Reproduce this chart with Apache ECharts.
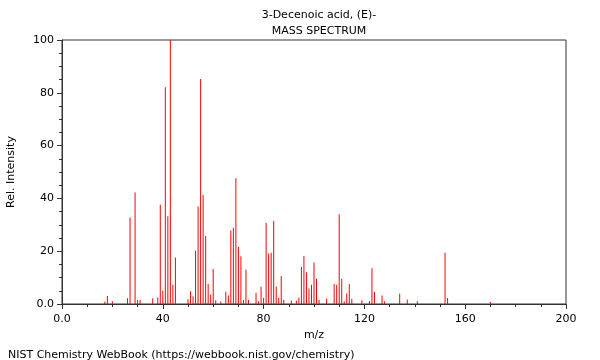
<!DOCTYPE html>
<html>
<head>
<meta charset="utf-8">
<script src="https://cdn.jsdelivr.net/npm/echarts@6/dist/echarts.min.js"></script>
<style>
html,body{margin:0;padding:0;background:#fff;}
#chart{width:600px;height:360px;}
</style>
</head>
<body>
<div id="chart"></div>
<script>
var titleLines = ['3-Decenoic acid, (E)-', 'MASS SPECTRUM'];
var xName = 'm/z';
var yName = 'Rel. Intensity';
var footer = 'NIST Chemistry WebBook (https://webbook.nist.gov/chemistry)';

var mzValues = [17,18,20,26,27,29,30,31,36,38,39,40,41,42,43,44,45,50,51,52,53,54,55,56,57,58,59,60,61,63,65,66,67,68,69,70,71,72,73,74,77,78,79,80,81,82,83,84,85,86,87,88,91,93,94,95,96,97,98,99,100,101,102,105,108,109,110,111,112,113,114,115,119,122,123,124,127,128,134,137,141,152,153,170];
var intensities = [0.9,3.0,1.0,2.2,32.8,42.2,1.5,1.5,2.2,2.5,37.6,5.0,82.1,33.2,100,7.3,17.6,1.8,4.8,2.9,20.2,36.9,85.2,41.3,25.8,7.6,3.6,13.3,1.4,0.9,4.6,3.2,27.8,28.9,47.6,21.6,18.1,1.5,13.1,1.5,4.3,0.9,6.5,2.4,30.8,19.1,19.4,31.4,6.6,2.4,10.6,1.5,1.3,1.2,2.5,14.0,18.2,12.0,5.9,7.3,15.7,9.6,1.5,2.1,7.6,7.3,34.0,9.6,0.9,4.0,7.6,1.9,1.4,1.1,13.5,4.6,3.2,1.0,3.9,1.7,1.0,19.4,2.3,0.8];

var data = mzValues.map(function(m, i){ return [m, intensities[i]]; });

var font = 'DejaVu Sans';
var chart = echarts.init(document.getElementById('chart'), null, {renderer: 'canvas'});
chart.setOption({
  animation: false,
  backgroundColor: '#fff',
  textStyle: {fontFamily: font},
  title: [
    {text: titleLines[0], left: 314, top: 5, textAlign: 'center',
     textStyle: {fontFamily: font, fontSize: 11, fontWeight: 'normal', color: '#000'}},
    {text: titleLines[1], left: 314, top: 21, textAlign: 'center',
     textStyle: {fontFamily: font, fontSize: 11, fontWeight: 'normal', color: '#000'}},
    {text: footer, left: 3, top: 345,
     textStyle: {fontFamily: font, fontSize: 11, fontWeight: 'normal', color: '#000'}}
  ],
  grid: {left: 62, right: 34, top: 40, bottom: 56, show: true, borderColor: '#333', borderWidth: 1,
         backgroundColor: 'transparent', containLabel: false, outerBoundsMode: 'none'},
  xAxis: {
    type: 'value', min: 0, max: 200, interval: 40,
    name: xName, nameLocation: 'middle', nameGap: 25,
    nameTextStyle: {fontFamily: font, fontSize: 11, color: '#000'},
    axisLine: {show: true, lineStyle: {color: '#333'}},
    axisTick: {show: true, length: 5, lineStyle: {color: '#333'}},
    minorTick: {show: true, splitNumber: 4, length: 3, lineStyle: {color: '#333'}},
    splitLine: {show: false},
    axisLabel: {fontFamily: font, fontSize: 11, color: '#000', margin: 10,
      formatter: function(v){ return v === 0 ? '0.0' : String(v); }}
  },
  yAxis: {
    type: 'value', min: 0, max: 100, interval: 20,
    name: yName, nameLocation: 'middle', nameGap: 45, nameRotate: 90,
    nameTextStyle: {fontFamily: font, fontSize: 11, color: '#000'},
    axisLine: {show: true, lineStyle: {color: '#333'}},
    axisTick: {show: true, length: 5, lineStyle: {color: '#333'}},
    minorTick: {show: true, splitNumber: 4, length: 3, lineStyle: {color: '#333'}},
    splitLine: {show: false},
    axisLabel: {fontFamily: font, fontSize: 11, color: '#000', margin: 8,
      formatter: function(v){ return v === 0 ? '0.0' : String(v); }}
  },
  series: [{
    type: 'bar',
    data: data,
    barWidth: 1,
    itemStyle: {color: '#ff0000'},
    silent: true
  }]
});
</script>
</body>
</html>
